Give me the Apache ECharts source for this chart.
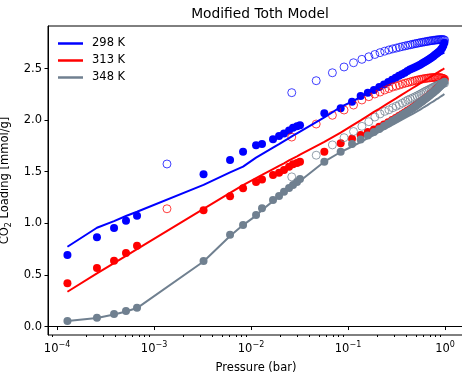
<!DOCTYPE html>
<html>
<head>
<meta charset="utf-8">
<script src="https://cdn.jsdelivr.net/npm/echarts@6/dist/echarts.min.js"></script>
<style>
  html, body { margin: 0; padding: 0; background: #fff; }
  #chart { width: 462px; height: 379px; }
</style>
</head>
<body>
<div id="chart"></div>
<script>
// adsorption pressures (bar), shared by the three temperatures
const pAds = [0.000128, 0.000258, 0.000387, 0.000514, 0.000668, 0.00324, 0.00608,
  0.00828, 0.01127, 0.01298, 0.01686, 0.01945, 0.02188, 0.02466, 0.02711, 0.02981, 0.0320,
  0.057, 0.084, 0.11, 0.135, 0.16, 0.185,
  0.21, 0.235, 0.26, 0.285, 0.31, 0.335, 0.36, 0.385, 0.41, 0.435, 0.46, 0.485, 0.51, 0.535,
  0.56, 0.585, 0.61, 0.635, 0.66, 0.685, 0.71, 0.735, 0.76, 0.785, 0.81, 0.835, 0.86, 0.885,
  0.91, 0.935, 0.96, 0.985];

const q298Ads = [0.693, 0.864, 0.954, 1.025, 1.074, 1.475, 1.613,
  1.694, 1.756, 1.768, 1.814, 1.845, 1.870, 1.900, 1.925, 1.940, 1.950,
  2.066, 2.114, 2.178, 2.233, 2.266, 2.292,
  2.32, 2.345, 2.37, 2.39, 2.41, 2.43, 2.445, 2.46, 2.475, 2.49, 2.50, 2.51, 2.52, 2.53,
  2.54, 2.55, 2.56, 2.57, 2.58, 2.59, 2.60, 2.61, 2.62, 2.63, 2.64, 2.65, 2.66, 2.67,
  2.685, 2.70, 2.72, 2.75];

const q313Ads = [0.419, 0.567, 0.638, 0.712, 0.783, 1.126, 1.262,
  1.339, 1.400, 1.424, 1.468, 1.490, 1.516, 1.548, 1.572, 1.585, 1.597,
  1.694, 1.775, 1.82, 1.855, 1.885, 1.91,
  1.935, 1.958, 1.98, 2.0, 2.02, 2.04, 2.058, 2.075, 2.09, 2.105, 2.12, 2.135, 2.15, 2.164,
  2.178, 2.19, 2.204, 2.216, 2.23, 2.242, 2.254, 2.266, 2.278, 2.29, 2.30, 2.312, 2.324, 2.336,
  2.348, 2.36, 2.375, 2.39];

const q348Ads = [0.053, 0.085, 0.121, 0.150, 0.182, 0.635, 0.890,
  0.983, 1.080, 1.145, 1.226, 1.265, 1.306, 1.342, 1.371, 1.400, 1.429,
  1.597, 1.694, 1.768, 1.812, 1.851, 1.885,
  1.914, 1.943, 1.967, 1.991, 2.011, 2.030, 2.049, 2.066, 2.082, 2.098, 2.112, 2.127, 2.141, 2.156,
  2.170, 2.183, 2.197, 2.209, 2.222, 2.234, 2.245, 2.257, 2.267, 2.279, 2.290, 2.301, 2.313, 2.325,
  2.336, 2.348, 2.360, 2.371];

// desorption pressures (bar)
const pDes = [0.00136, 0.0263, 0.047, 0.069, 0.091, 0.114, 0.139,
  0.164, 0.189, 0.214, 0.239, 0.264, 0.289, 0.314, 0.339, 0.364, 0.389,
  0.414, 0.439, 0.464, 0.489, 0.514, 0.539, 0.564, 0.589, 0.614, 0.639,
  0.664, 0.689, 0.714, 0.739, 0.764, 0.789, 0.814, 0.839, 0.864, 0.889,
  0.914, 0.939, 0.964, 0.99];

const q298Des = [1.575, 2.266, 2.382, 2.459, 2.515, 2.556, 2.589,
  2.614, 2.636, 2.654, 2.668, 2.680, 2.690, 2.698, 2.706, 2.713, 2.719,
  2.725, 2.730, 2.735, 2.740, 2.744, 2.748, 2.752, 2.755, 2.758, 2.761,
  2.764, 2.767, 2.769, 2.771, 2.773, 2.775, 2.777, 2.778, 2.779, 2.780,
  2.781, 2.781, 2.780, 2.776];

const q313Des = [1.141, 1.836, 1.962, 2.047, 2.098, 2.146, 2.195,
  2.227, 2.253, 2.272, 2.292, 2.306, 2.321, 2.330, 2.340, 2.350, 2.358,
  2.364, 2.371, 2.377, 2.383, 2.388, 2.392, 2.396, 2.399, 2.402, 2.405,
  2.407, 2.409, 2.411, 2.412, 2.413, 2.414, 2.414, 2.414, 2.413, 2.412,
  2.410, 2.407, 2.403, 2.398];

const q348Des = [null, 1.45, 1.66, 1.76, 1.83, 1.89, 1.94,
  1.985, 2.03, 2.06, 2.085, 2.10, 2.12, 2.135, 2.15, 2.165, 2.18,
  2.195, 2.205, 2.215, 2.225, 2.235, 2.245, 2.255, 2.265, 2.275, 2.283,
  2.29, 2.298, 2.306, 2.313, 2.32, 2.326, 2.332, 2.338, 2.343, 2.348,
  2.352, 2.355, 2.357, 2.358];

// modified Toth fit curves
const pModel = [0.000128, 0.000258, 0.000387, 0.000514, 0.000668, 0.00324, 0.00608,
  0.00828, 0.01127, 0.01298, 0.01686, 0.01945, 0.02188, 0.02466, 0.02711, 0.02981, 0.0320,
  0.057, 0.084, 0.11, 0.135, 0.16, 0.185,
  0.21, 0.26, 0.31, 0.36, 0.41, 0.46, 0.51, 0.56, 0.61, 0.66, 0.71, 0.76, 0.81, 0.86,
  0.91, 0.96, 0.985];

const m298 = [0.773, 0.957, 1.022, 1.071, 1.112, 1.372, 1.493,
  1.55, 1.637, 1.671, 1.734, 1.768, 1.797, 1.826, 1.849, 1.872, 1.888,
  2.026, 2.127, 2.180, 2.224, 2.262, 2.292,
  2.316, 2.364, 2.408, 2.442, 2.471, 2.495, 2.519, 2.539, 2.558, 2.573, 2.587, 2.602, 2.616, 2.628,
  2.640, 2.650, 2.655];

const m313 = [0.337, 0.516, 0.615, 0.685, 0.750, 1.141, 1.296,
  1.371, 1.439, 1.469, 1.526, 1.557, 1.582, 1.609, 1.629, 1.649, 1.665,
  1.790, 1.879, 1.947, 1.998, 2.042, 2.079,
  2.110, 2.165, 2.209, 2.247, 2.280, 2.309, 2.335, 2.359, 2.381, 2.401, 2.419, 2.436, 2.453, 2.467,
  2.482, 2.495, 2.502];

const m348 = [0.053, 0.082, 0.116, 0.145, 0.179, 0.630, 0.877,
  0.983, 1.075, 1.130, 1.215, 1.258, 1.295, 1.330, 1.358, 1.385, 1.41,
  1.597, 1.691, 1.744, 1.788, 1.826, 1.856,
  1.885, 1.933, 1.972, 2.006, 2.035, 2.059, 2.083, 2.105, 2.127, 2.146, 2.166, 2.182, 2.200, 2.214,
  2.231, 2.245, 2.253];

const seriesNames = ['298 K', '313 K', '348 K'];
const seriesColors = ['#0000ff', '#ff0000', '#708090'];

const xTicks = [1e-4, 1e-3, 1e-2, 1e-1, 1];
const xMinorTicks = [9e-5];
[1e-4, 1e-3, 1e-2, 1e-1].forEach(d => {
  for (let k = 2; k <= 9; k++) xMinorTicks.push(k * d);
});
const yTicks = [0, 0.5, 1, 1.5, 2, 2.5];

const font = 'DejaVu Sans';
const fs = 11.5;
const toPairs = (xs, ys) => xs.map((x, i) => [x, ys[i]]).filter(d => d[1] != null);

const adsData = [q298Ads, q313Ads, q348Ads];
const desData = [q298Des, q313Des, q348Des];
const modelData = [m298, m313, m348];

const series = [];
seriesNames.forEach((name, i) => {
  series.push({
    name: name + ' ads',
    type: 'scatter',
    data: toPairs(pAds, adsData[i]),
    symbolSize: 8,
    itemStyle: { color: seriesColors[i], opacity: 1 }
  });
  series.push({
    name: name + ' des',
    type: 'scatter',
    data: toPairs(pDes, desData[i]),
    symbolSize: 8,
    itemStyle: { color: 'rgba(0,0,0,0)', borderColor: seriesColors[i], borderWidth: 1, opacity: 0.75 }
  });
  series.push({
    name: name,
    type: 'line',
    data: toPairs(pModel, modelData[i]),
    symbol: 'none',
    color: seriesColors[i],
    lineStyle: { width: 2, color: seriesColors[i] }
  });
});

const chart = echarts.init(document.getElementById('chart'));

const option = {
  animation: false,
  textStyle: { fontFamily: font },
  title: {
    text: 'Modified Toth Model',
    left: 255,
    textAlign: 'center',
    top: 2,
    textStyle: { fontFamily: font, fontSize: 13.8, fontWeight: 'normal', color: '#000' }
  },
  legend: {
    data: seriesNames,
    orient: 'vertical',
    left: 58,
    top: 35,
    padding: 0,
    icon: 'rect',
    itemWidth: 25,
    itemHeight: 2.5,
    itemGap: 0,
    textStyle: { fontFamily: font, fontSize: fs, color: '#000', lineHeight: 17, padding: [0, 0, 0, 4] }
  },
  grid: {
    left: 48, right: -2, top: 26, bottom: 44,
    outerBoundsMode: 'none',
    containLabel: false,
    show: true, borderColor: '#000', borderWidth: 1
  },
  xAxis: [{
    type: 'log',
    logBase: 10,
    min: 8.07e-5,
    max: 1.57,
    name: 'Pressure (bar)',
    nameLocation: 'middle',
    nameGap: 27,
    nameTextStyle: { fontFamily: font, fontSize: fs, color: '#000' },
    axisLine: { lineStyle: { color: '#000', width: 1 } },
    axisTick: { customValues: xTicks, length: 3.5, lineStyle: { color: '#000' } },
    axisLabel: {
      customValues: xTicks,
      margin: 6,
      color: '#000',
      fontFamily: font,
      fontSize: fs,
      formatter: v => {
        const e = Math.round(Math.log10(v));
        return '10{sup|' + (e < 0 ? '\u2212' + (-e) : e) + '}';
      },
      rich: {
        sup: { fontSize: 8, verticalAlign: 'top', fontFamily: font, color: '#000' }
      },
      lineHeight: 16
    },
    splitLine: { show: false },
    minorTick: { show: false }
  }, {
    type: 'log',
    logBase: 10,
    min: 8.07e-5,
    max: 1.57,
    position: 'bottom',
    axisLine: { show: false },
    axisTick: { customValues: xMinorTicks, length: 2, lineStyle: { color: '#000' } },
    axisLabel: { show: false },
    splitLine: { show: false }
  }],
  yAxis: {
    type: 'value',
    min: -0.082,
    max: 2.912,
    name: 'CO{sub|2} Loading [mmol/g]',
    nameLocation: 'middle',
    nameGap: 27,
    nameRotate: 90,
    nameTextStyle: {
      fontFamily: font, fontSize: fs, color: '#000', lineHeight: 15,
      rich: { sub: { fontSize: 8, verticalAlign: 'bottom', fontFamily: font, color: '#000' } }
    },
    axisLine: { show: true, lineStyle: { color: '#000', width: 1 } },
    axisTick: { show: true, customValues: yTicks, length: 3.5, lineStyle: { color: '#000' } },
    axisLabel: {
      customValues: yTicks,
      margin: 6,
      color: '#000',
      fontFamily: font,
      fontSize: fs,
      formatter: v => v.toFixed(1)
    },
    splitLine: { show: false }
  },
  series: series
};

chart.setOption(option);
</script>
</body>
</html>
